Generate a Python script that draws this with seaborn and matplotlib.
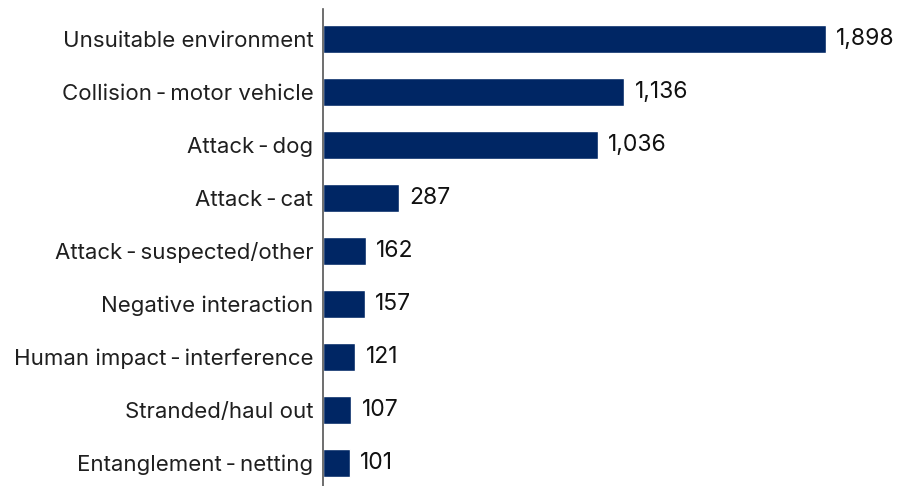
import matplotlib
matplotlib.use("Agg")
import matplotlib.pyplot as plt
import seaborn as sns
import pandas as pd

causes = [
    "Unsuitable environment",
    "Collision\u2009-\u2009motor vehicle",
    "Attack\u2009-\u2009dog",
    "Attack\u2009-\u2009cat",
    "Attack\u2009-\u2009suspected/other",
    "Negative interaction",
    "Human impact\u2009-\u2009interference",
    "Stranded/haul out",
    "Entanglement\u2009-\u2009netting",
]
counts = [1898, 1136, 1036, 287, 162, 157, 121, 107, 101]

df = pd.DataFrame({"cause": causes, "count": counts})

sns.set_theme(style="white")
plt.rcParams["font.family"] = ["Inter", "DejaVu Sans"]

fig = plt.figure(figsize=(9.14, 4.86), dpi=100)
ax = fig.add_axes([323 / 914, 0.0, 591 / 914, 1 - 9 / 486])

sns.barplot(data=df, x="count", y="cause", color="#002664", width=0.53,
            saturation=1, ax=ax)

ax.set_xlim(0, 2230)
ax.set_ylim(8.434, -0.566)
ax.set_xlabel("")
ax.set_ylabel("")
ax.set_xticks([])
for s in ["top", "right", "bottom"]:
    ax.spines[s].set_visible(False)
ax.spines["left"].set_color("#555555")
ax.spines["left"].set_linewidth(1.2)
ax.tick_params(axis="y", length=0, pad=7, labelsize=16, labelcolor="#1f1f1f")

for i, v in enumerate(counts):
    ax.annotate(f"{v:,}", xy=(v, i), xytext=(7.5, 0), textcoords="offset points",
                va="center", ha="left", fontsize=16.5, color="#111111")

fig.savefig("out.png", dpi=100)
